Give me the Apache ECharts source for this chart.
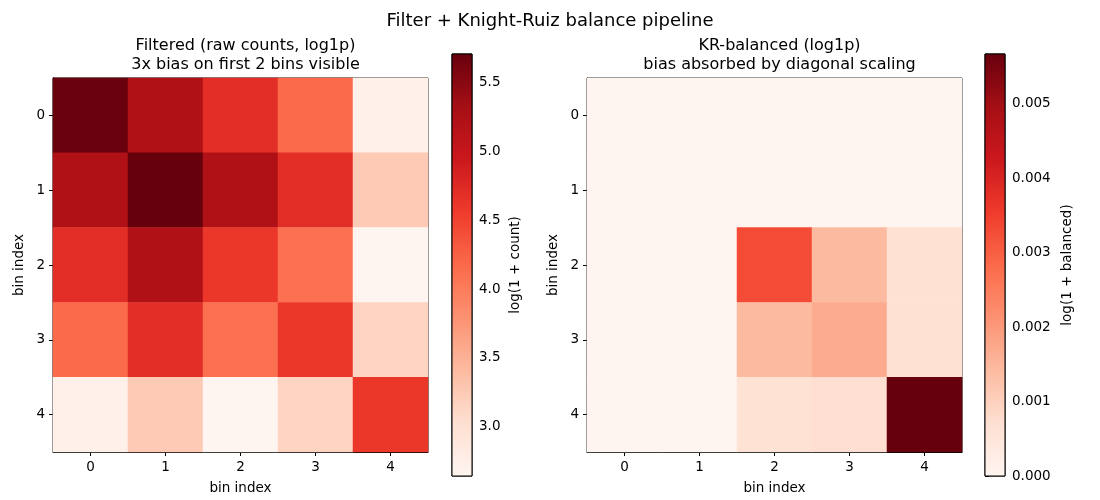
<!DOCTYPE html>
<html>
<head>
<meta charset="utf-8">
<script src="https://cdn.jsdelivr.net/npm/echarts@6/dist/echarts.min.js"></script>
<style>html,body{margin:0;padding:0;background:#fff}#c{width:1100px;height:500px}</style>
</head>
<body>
<div id="c"></div>
<script>
// ---- data ----
const binLabels = ['0', '1', '2', '3', '4'];
const filteredLog = [
  [5.70, 5.22, 4.70, 4.17, 2.73],
  [5.22, 5.71, 5.22, 4.70, 3.25],
  [4.70, 5.22, 4.60, 4.12, 2.64],
  [4.17, 4.70, 4.12, 4.60, 3.16],
  [2.73, 3.25, 2.64, 3.16, 4.60]
];
const balancedLog = [
  [0, 0, 0, 0, 0],
  [0, 0, 0, 0, 0],
  [0, 0, 0.00330, 0.00142, 0.00068],
  [0, 0, 0.00142, 0.00170, 0.00068],
  [0, 0, 0.00065, 0.00072, 0.00567]
];
const cbTicksLeft = [3.0, 3.5, 4.0, 4.5, 5.0, 5.5];
const cbTicksRight = [0, 0.001, 0.002, 0.003, 0.004, 0.005];

const REDS = ['#fff5f0', '#fee0d2', '#fcbba1', '#fc9272', '#fb6a4a', '#ef3b2c', '#cb181d', '#a50f15', '#67000d'];
const FONT = 'DejaVu Sans';

function toCells(m) {
  const out = [];
  m.forEach((row, r) => row.forEach((v, c) => out.push([c, r, v])));
  return out;
}
function extent(m) {
  const flat = m.flat();
  return [Math.min(...flat), Math.max(...flat)];
}
const [minL, maxL] = extent(filteredLog);
const [minR, maxR] = extent(balancedLog);

const chart = echarts.init(document.getElementById('c'), null, {renderer: 'canvas'});

const G = [
  {left: 53, top: 78, width: 375, height: 374},
  {left: 452, top: 54, width: 20, height: 422},
  {left: 587, top: 78, width: 375, height: 374},
  {left: 985, top: 54, width: 20, height: 422}
];

const axisTxt = {color: '#000', fontFamily: FONT, fontSize: 13.5};
function catX(gi, name) {
  return {
    type: 'category', gridIndex: gi, data: binLabels, position: 'bottom',
    axisLine: {show: true, lineStyle: {color: '#000'}},
    axisTick: {show: true, alignWithLabel: true, length: 4, lineStyle: {color: '#000'}},
    axisLabel: Object.assign({margin: 8}, axisTxt),
    splitLine: {show: false},
    name: name, nameLocation: 'middle', nameGap: 29, nameTextStyle: axisTxt
  };
}
function catY(gi, name) {
  return {
    type: 'category', gridIndex: gi, data: binLabels, inverse: true,
    axisLine: {show: true, lineStyle: {color: '#000'}},
    axisTick: {show: true, alignWithLabel: true, length: 4, lineStyle: {color: '#000'}},
    axisLabel: Object.assign({margin: 8}, axisTxt),
    splitLine: {show: false},
    name: name, nameLocation: 'middle', nameGap: 27, nameRotate: 90, nameTextStyle: axisTxt
  };
}
function cbX(gi) {
  return {type: 'value', gridIndex: gi, min: 0, max: 1, show: false};
}
function cbY(gi, lo, hi, ticks, dec, name, gap) {
  return {
    type: 'value', gridIndex: gi, min: lo, max: hi, position: 'right',
    axisLine: {show: false},
    splitLine: {show: false},
    axisTick: {show: true, length: 4, customValues: ticks, lineStyle: {color: '#000'}},
    axisLabel: Object.assign({margin: 7, customValues: ticks, formatter: v => v.toFixed(dec)}, axisTxt),
    name: name, nameLocation: 'middle', nameGap: gap, nameRotate: 90, nameTextStyle: axisTxt
  };
}
function cbSeries(xi, lo, hi) {
  return {
    type: 'custom', xAxisIndex: xi, yAxisIndex: xi, silent: true,
    data: [[0, lo]],
    renderItem: function (params, api) {
      const p0 = api.coord([0, lo]);
      const p1 = api.coord([1, hi]);
      return {
        type: 'rect',
        shape: {x: p0[0], y: p1[1], width: p1[0] - p0[0], height: p0[1] - p1[1]},
        style: {
          fill: new echarts.graphic.LinearGradient(0, 1, 0, 0,
            REDS.map((c, i) => ({offset: i / (REDS.length - 1), color: c}))),
          stroke: '#000', lineWidth: 1
        }
      };
    }
  };
}

chart.setOption({
  animation: false,
  backgroundColor: '#fff',
  title: [
    {text: 'Filter + Knight-Ruiz balance pipeline', left: 'center', top: 7,
      textStyle: {fontFamily: FONT, fontSize: 18, fontWeight: 'normal', color: '#000'}},
    {text: 'Filtered (raw counts, log1p)\n3x bias on first 2 bins visible', left: 240.5, textAlign: 'center', top: 31,
      textStyle: {fontFamily: FONT, fontSize: 16, fontWeight: 'normal', color: '#000', lineHeight: 19}},
    {text: 'KR-balanced (log1p)\nbias absorbed by diagonal scaling', left: 774.5, textAlign: 'center', top: 31,
      textStyle: {fontFamily: FONT, fontSize: 16, fontWeight: 'normal', color: '#000', lineHeight: 19}}
  ],
  grid: G.map(g => Object.assign({show: true, borderColor: '#000', borderWidth: 1, backgroundColor: 'transparent', containLabel: false}, g)),
  xAxis: [catX(0, 'bin index'), cbX(1), catX(2, 'bin index'), cbX(3)],
  yAxis: [
    catY(0, 'bin index'),
    cbY(1, minL, maxL, cbTicksLeft, 1, 'log(1 + count)', 36),
    catY(2, 'bin index'),
    cbY(3, minR, maxR, cbTicksRight, 3, 'log(1 + balanced)', 55)
  ],
  visualMap: [
    {type: 'continuous', show: false, seriesIndex: 0, min: minL, max: maxL, inRange: {color: REDS}},
    {type: 'continuous', show: false, seriesIndex: 2, min: minR, max: maxR, inRange: {color: REDS}}
  ],
  series: [
    {type: 'heatmap', xAxisIndex: 0, yAxisIndex: 0, data: toCells(filteredLog), itemStyle: {borderWidth: 0}},
    cbSeries(1, minL, maxL),
    {type: 'heatmap', xAxisIndex: 2, yAxisIndex: 2, data: toCells(balancedLog), itemStyle: {borderWidth: 0}},
    cbSeries(3, minR, maxR)
  ]
});
</script>
</body>
</html>
